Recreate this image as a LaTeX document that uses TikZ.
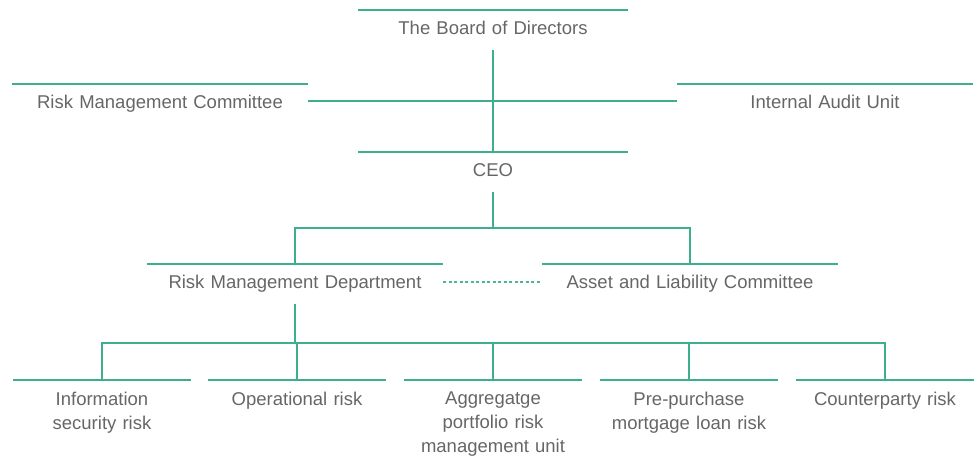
\documentclass[tikz,border=0pt]{standalone}
\usepackage{fontspec}
\setmainfont{Liberation Sans}
\usetikzlibrary{calc}
\definecolor{orgteal}{HTML}{3DAE8E}
\definecolor{orgdash}{HTML}{4DB597}
\definecolor{txtgray}{HTML}{666666}

\begin{document}
\begin{tikzpicture}[x=1pt, y=-1pt,
  unit/.style={font=\fontsize{18.5}{24}\selectfont, text=txtgray, align=center,
    anchor=north, inner xsep=0pt, inner ysep=10pt, text height=14pt, text depth=6pt},
  leaf/.style={font=\fontsize{18.5}{24}\selectfont, text=txtgray, align=center,
    anchor=north, inner xsep=0pt, inner ysep=11.5pt, text width=178pt},
  rule/.style={orgteal, line width=1.5pt},
  link/.style={orgteal, line width=1.5pt},
  peer/.style={orgdash, line width=1.5pt, dash pattern=on 3pt off 2.5pt}]

\useasboundingbox (0,0) rectangle (979,458);

% --- Top level ---
\node[unit, text width=270pt] (board) at (493,10) {The Board of Directors};
\node[unit, text width=296pt] (rmc) at (160,84) {Risk Management Committee};
\node[unit, text width=296pt] (iau) at (825,84) {Internal Audit Unit};
\node[unit, text width=270pt] (ceo) at (493,152) {CEO};

% --- Second level ---
\node[unit, text width=296pt] (rmd) at (295,264) {Risk Management Department};
\node[unit, text width=296pt] (alc) at (690,264) {Asset and Liability Committee};

% --- Risk units ---
\node[leaf] (l1) at (102,380) {Information\\security risk};
\node[leaf] (l2) at (297,380) {Operational risk};
\node[leaf] (l3) at (493,380) {Aggregatge\\portfolio risk\\management unit};
\node[leaf] (l4) at (689,380) {Pre-purchase\\mortgage loan risk};
\node[leaf] (l5) at (885,380) {Counterparty risk};

% Lines over every box
\foreach \n in {board,rmc,iau,ceo,rmd,alc,l1,l2,l3,l4,l5}
  \draw[rule] (\n.north west) -- (\n.north east);

% --- Connectors ---
\coordinate (ceobus) at (493,228);
\coordinate (riskbus) at (295,343);

\draw[link] (board.south) -- (ceo.north);
\draw[link] ([yshift=3pt]rmc.east) -- ([yshift=3pt]iau.west);

\draw[link] (ceo.south) -- (ceobus);
\draw[link] (rmd.north) |- (ceobus) -| (alc.north);
\draw[peer] ([yshift=2pt]rmd.east) -- ([yshift=2pt]alc.west);

\draw[link] (rmd.south) -- (riskbus);
\draw[link] (l1.north) |- (riskbus) -| (l5.north);
\foreach \n in {l2,l3,l4}
  \draw[link] (\n.north) -- (\n.north |- riskbus);

\end{tikzpicture}
\end{document}
